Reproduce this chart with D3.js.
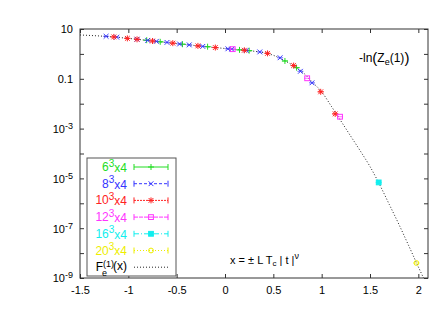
<!DOCTYPE html>
<html><head><meta charset="utf-8">
<script src="https://cdn.jsdelivr.net/npm/d3@7"></script>
<style>body{margin:0;background:#fff}svg{display:block;font-family:"Liberation Sans",Arial,sans-serif}</style>
</head><body><svg id="c" width="436" height="327"></svg>
<script>
// ---- data ----
const xTicks = [-1.5, -1, -0.5, 0, 0.5, 1, 1.5, 2];
const xTickLabels = ["-1.5", "-1", "-0.5", "0", "0.5", "1", "1.5", "2"];
const yTicks = [1e1, 1e0, 1e-1, 1e-2, 1e-3, 1e-4, 1e-5, 1e-6, 1e-7, 1e-8, 1e-9];
const yTickLabels = [["10",""], null, ["0.1",""], null, ["10","-3"], null, ["10","-5"], null, ["10","-7"], null, ["10","-9"]];

const curveX = [-1.5, -1.25, -1.0, -0.75, -0.5, -0.25, 0, 0.25, 0.4, 0.5, 0.6, 0.7, 0.8, 0.9, 1.0, 1.1, 1.2, 1.3, 1.4, 1.5, 1.6, 1.7, 1.8, 1.9, 2.0, 2.06];
const curveY = [5.75, 5.1, 4.2, 3.3, 2.6, 2.05, 1.65, 1.35, 1.12, 0.88, 0.58, 0.35, 0.19, 0.076, 0.030, 0.0079, 0.002, 5e-4, 1.26e-4, 3.0e-5, 5.6e-6, 8.9e-7, 1.4e-7, 2.0e-8, 2.8e-9, 8.9e-10];

const s6x = [-0.81, -0.67, -0.44, -0.18, 0.15, 0.25, 0.62, 0.74];
const s6y = [3.55, 3.05, 2.45, 1.95, 1.45, 1.35, 0.52, 0.28];
const s8x = [-1.23, -1.12, -0.91, -0.80, -0.71, -0.60, -0.47, -0.37, -0.23, 0.03, 0.07, 0.22, 0.36, 0.57, 0.78, 0.90];
const s8y = [5.1, 4.7, 3.9, 3.5, 3.2, 2.9, 2.5, 2.3, 2.0, 1.6, 1.55, 1.38, 1.2, 0.7, 0.2, 0.069];
const s10x = [-1.15, -1.01, -0.91, -0.75, -0.54, -0.28, -0.10, 0.20, 0.44, 0.71, 0.99, 1.14];
const s10y = [4.8, 4.2, 3.85, 3.3, 2.7, 2.1, 1.8, 1.4, 1.05, 0.34, 0.030, 0.0039];
const s12x = [0.08, 0.85, 1.19];
const s12y = [1.55, 0.105, 0.003];
const s16x = [1.59];
const s16y = [6.9e-6];
const s20x = [1.98];
const s20y = [4e-9];

const seriesNames = ["6", "8", "10", "12", "16", "20"];
const seriesColors = ["#22dd22", "#3535ff", "#ff2222", "#ff33ff", "#11eeee", "#eeee00"];
const seriesMarkers = ["plus", "cross", "star", "square", "fsquare", "circle"];
const seriesDash = ["none", "3,2", "2,1", "4,1", "5,2,1,2", "1,2"];
const seriesX = [s6x, s8x, s10x, s12x, s16x, s20x];
const seriesY = [s6y, s8y, s10y, s12y, s16y, s20y];

// ---- layout ----
const svg = d3.select("#c");
const L = 80, R = 428, T = 29, B = 278;
const x = d3.scaleLinear().domain([-1.5, 2.1]).range([L, R]);
const y = d3.scaleLog().domain([1e-9, 10]).range([B, T]);
const axisColor = "#333";

function styleAxis(g){
  g.select(".domain").remove();
  g.selectAll("line").attr("stroke", axisColor);
}
svg.append("g").attr("transform",`translate(0,${B})`)
  .call(d3.axisBottom(x).tickValues(xTicks).tickSize(-4).tickPadding(8).tickFormat((d,i)=>xTickLabels[i]))
  .call(styleAxis)
  .selectAll("text").attr("font-size",11).attr("fill","#000").attr("font-family","Liberation Sans, Arial, sans-serif");
svg.append("g").attr("transform",`translate(0,${T})`)
  .call(d3.axisTop(x).tickValues(xTicks).tickSize(-4).tickFormat(""))
  .call(styleAxis);
const ly = svg.append("g").attr("transform",`translate(${L},0)`)
  .call(d3.axisLeft(y).tickValues(yTicks).tickSize(-4).tickPadding(7).tickFormat(""))
  .call(styleAxis);
ly.selectAll(".tick").each(function(d,i){
  const lab = yTickLabels[i];
  if(!lab) return;
  const t = d3.select(this).append("text").attr("x",-7).attr("dy","0.35em")
    .attr("text-anchor","end").attr("font-size",11).attr("fill","#000")
    .attr("font-family","Liberation Sans, Arial, sans-serif");
  t.append("tspan").text(lab[0]);
  if(lab[1]) t.append("tspan").attr("dy","-0.45em").attr("font-size",9).text(lab[1]);
});
svg.append("g").attr("transform",`translate(${R},0)`)
  .call(d3.axisRight(y).tickValues(yTicks).tickSize(-4).tickFormat(""))
  .call(styleAxis);
svg.append("rect").attr("x",L).attr("y",T).attr("width",R-L).attr("height",B-T)
  .attr("fill","none").attr("stroke",axisColor).attr("stroke-width",1);

// ---- curve ----
svg.append("clipPath").attr("id","clp").append("rect").attr("x",L).attr("y",T).attr("width",R-L).attr("height",B-T);
const line = d3.line().x(d=>x(d[0])).y(d=>y(d[1])).curve(d3.curveMonotoneX);
svg.append("path").attr("clip-path","url(#clp)")
  .datum(curveX.map((v,i)=>[v,curveY[i]]))
  .attr("d",line).attr("fill","none").attr("stroke","#222").attr("stroke-width",1).attr("stroke-dasharray","1,2");

// ---- markers ----
function marker(g, type, cx, cy, col, s){
  const h = s/2;
  const p = g.append("g").attr("stroke",col).attr("stroke-width",1).attr("fill","none");
  if(type==="plus"||type==="star"){
    p.append("line").attr("x1",cx-h).attr("x2",cx+h).attr("y1",cy).attr("y2",cy);
    p.append("line").attr("x1",cx).attr("x2",cx).attr("y1",cy-h).attr("y2",cy+h);
  }
  if(type==="cross"||type==="star"){
    const k = h*0.8;
    p.append("line").attr("x1",cx-k).attr("x2",cx+k).attr("y1",cy-k).attr("y2",cy+k);
    p.append("line").attr("x1",cx-k).attr("x2",cx+k).attr("y1",cy+k).attr("y2",cy-k);
  }
  if(type==="square") p.append("rect").attr("x",cx-h*0.8).attr("y",cy-h*0.8).attr("width",h*1.6).attr("height",h*1.6);
  if(type==="fsquare") p.append("rect").attr("x",cx-h*0.8).attr("y",cy-h*0.8).attr("width",h*1.6).attr("height",h*1.6).attr("fill",col);
  if(type==="circle") p.append("circle").attr("cx",cx).attr("cy",cy).attr("r",h*0.8);
}
const pg = svg.append("g");
seriesX.forEach((xs,si)=>{
  xs.forEach((xv,j)=>{
    const cx = x(xv), cy = y(seriesY[si][j]);
    pg.append("line").attr("x1",cx-3).attr("x2",cx+3).attr("y1",cy).attr("y2",cy).attr("stroke",seriesColors[si]).attr("stroke-opacity",0.7);
    marker(pg, seriesMarkers[si], cx, cy, seriesColors[si], 6);
  });
});

// ---- legend ----
const lg = svg.append("g");
lg.append("rect").attr("x",87).attr("y",158).attr("width",89).attr("height",118)
  .attr("fill","#fff").attr("stroke","#555");
const rowY = i => 167 + i*16.7;
seriesNames.forEach((n,i)=>{
  const yy = rowY(i);
  const t = lg.append("text").attr("x",127).attr("y",yy+4).attr("text-anchor","end")
    .attr("font-size",12).attr("fill",seriesColors[i]);
  t.append("tspan").text(n);
  t.append("tspan").attr("dy","-0.45em").attr("font-size",10).text("3");
  t.append("tspan").attr("dy","0.45em").text("x4");
  lg.append("line").attr("x1",134).attr("x2",168).attr("y1",yy).attr("y2",yy)
    .attr("stroke",seriesColors[i]).attr("stroke-dasharray",seriesDash[i]);
  lg.append("line").attr("x1",134).attr("x2",134).attr("y1",yy-3).attr("y2",yy+3).attr("stroke",seriesColors[i]);
  lg.append("line").attr("x1",168).attr("x2",168).attr("y1",yy-3).attr("y2",yy+3).attr("stroke",seriesColors[i]);
  const mg = lg.append("g").attr("fill","#fff");
  marker(mg, seriesMarkers[i], 151, yy, seriesColors[i], 6);
});
{
  const yy = rowY(6);
  const t = lg.append("text").attr("x",127).attr("y",yy+4).attr("text-anchor","end").attr("font-size",12).attr("fill","#000");
  t.append("tspan").text("F");
  t.append("tspan").attr("dy","-0.5em").attr("font-size",9).text("(1)");
  t.append("tspan").attr("dx","-12").attr("dy","1.0em").attr("font-size",9).text("e");
  t.append("tspan").attr("dx","6").attr("dy","-0.5em").text("(x)");
  lg.append("line").attr("x1",134).attr("x2",168).attr("y1",yy).attr("y2",yy)
    .attr("stroke","#222").attr("stroke-dasharray","1,2");
}

// ---- annotations ----
{
  const t = svg.append("text").attr("x",359).attr("y",62).attr("font-size",12).attr("fill","#000");
  t.append("tspan").text("-ln");
  t.append("tspan").attr("font-size",15).attr("dy","1").text("(");
  t.append("tspan").attr("dy","-1").text("Z");
  t.append("tspan").attr("font-size",9).attr("dy","3").text("e");
  t.append("tspan").attr("dy","-3").text("(1)");
  t.append("tspan").attr("font-size",15).attr("dy","1").text(")");
}
{
  const t = svg.append("text").attr("x",230).attr("y",264).attr("font-size",11).attr("fill","#000");
  t.append("tspan").text("x = \u00B1 L T");
  t.append("tspan").attr("font-size",8).attr("dy","2").text("c");
  t.append("tspan").attr("dy","-2").text(" | t |");
  t.append("tspan").attr("font-size",9).attr("dy","-5").text("\u03BD");
}
</script></body></html>
